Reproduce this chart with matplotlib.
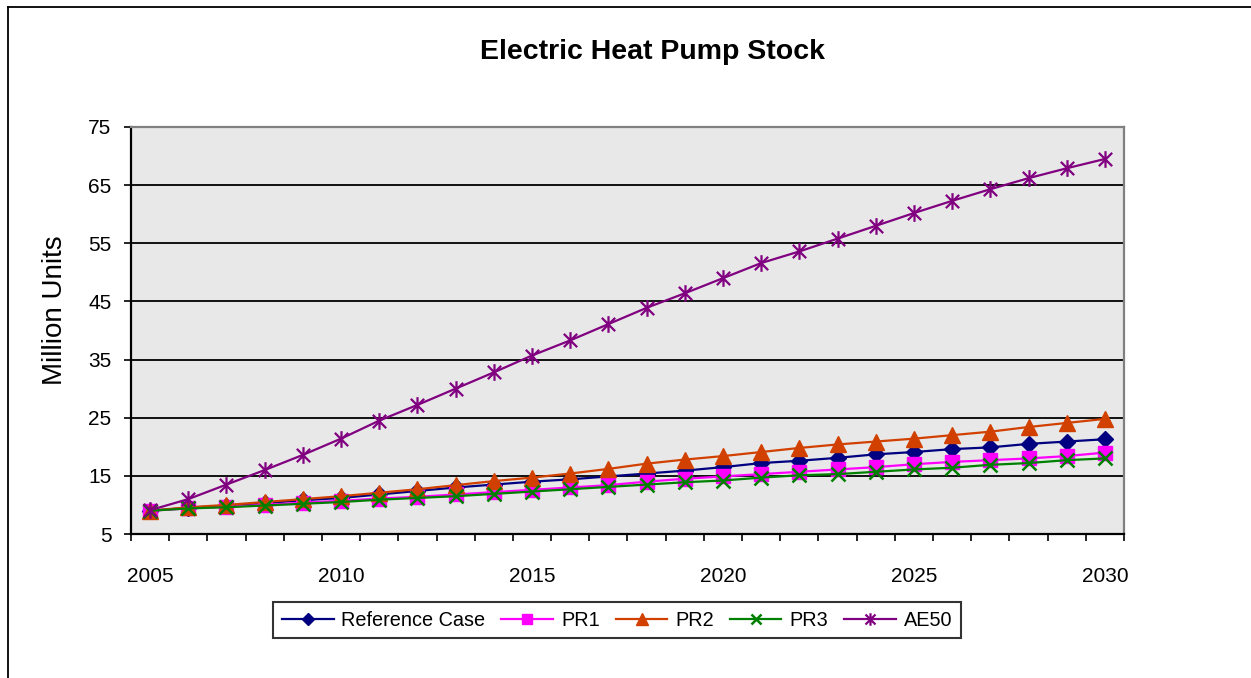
import matplotlib.pyplot as plt
from matplotlib.lines import Line2D
from matplotlib.path import Path

# data (million units)
years = list(range(2005, 2031))
ref_case = [9.0, 9.5, 9.9, 10.3, 10.8, 11.2, 11.8, 12.4, 13.0, 13.5, 14.0, 14.4, 14.9,
            15.4, 15.9, 16.5, 17.2, 17.6, 18.1, 18.7, 19.1, 19.6, 19.9, 20.5, 20.9, 21.3]
pr1 = [9.0, 9.4, 9.7, 10.0, 10.4, 10.7, 11.1, 11.4, 11.8, 12.2, 12.6, 13.0, 13.4,
       14.0, 14.5, 14.9, 15.3, 15.7, 16.1, 16.5, 17.0, 17.4, 17.7, 18.0, 18.4, 19.0]
pr2 = [9.0, 9.6, 10.0, 10.5, 11.0, 11.5, 12.1, 12.7, 13.4, 14.1, 14.7, 15.4, 16.2,
       17.1, 17.8, 18.4, 19.1, 19.8, 20.4, 20.9, 21.4, 22.0, 22.6, 23.4, 24.1, 24.8]
pr3 = [9.0, 9.4, 9.6, 9.9, 10.2, 10.5, 10.9, 11.2, 11.5, 11.9, 12.3, 12.7, 13.1,
       13.5, 13.9, 14.2, 14.7, 15.1, 15.3, 15.7, 16.1, 16.4, 16.9, 17.2, 17.7, 18.0]
ae50 = [9.1, 11.0, 13.5, 16.0, 18.6, 21.4, 24.5, 27.2, 30.0, 32.8, 35.7, 38.3, 41.1,
        43.9, 46.4, 49.0, 51.6, 53.6, 55.8, 58.0, 60.2, 62.3, 64.3, 66.2, 67.9, 69.5]
y_ticks = [5, 15, 25, 35, 45, 55, 65, 75]
x_labels = [2005, 2010, 2015, 2020, 2025, 2030]

plt.rcParams['font.family'] = ['Liberation Sans', 'DejaVu Sans']

# Excel style star: an "x" with a vertical bar through it
star = Path([(-1, -1), (1, 1), (-1, 1), (1, -1), (0, -1.25), (0, 1.25)],
            [Path.MOVETO, Path.LINETO, Path.MOVETO, Path.LINETO, Path.MOVETO, Path.LINETO])

fig = plt.figure(figsize=(12.51, 6.78), dpi=100)
ax = fig.add_axes([131 / 1251, 1 - 534 / 678, 993 / 1251, 407 / 678])
ax.set_facecolor('#E8E8E8')

series = [
    ("Reference Case", ref_case, '#000080', 'D', 8, 1.0),
    ("PR1", pr1, '#FF00FF', 's', 9.5, 1.0),
    ("PR2", pr2, '#D24000', '^', 11, 1.0),
    ("PR3", pr3, '#008000', 'x', 10, 1.8),
    ("AE50", ae50, '#800080', star, 12, 1.6),
]
for name, vals, col, mk, ms, mew in series:
    ax.plot(years, vals, color=col, lw=1.6, marker=mk, markersize=ms,
            markerfacecolor=col, markeredgecolor=col, markeredgewidth=mew,
            label=name, zorder=3)

ax.set_xlim(2004.5, 2030.5)
ax.set_ylim(5, 75)
ax.set_yticks(y_ticks)
ax.set_xticks(x_labels)
ax.set_xticks([y - 0.5 for y in years] + [2030.5], minor=True)
ax.grid(axis='y', color='black', lw=1.3, zorder=1)

ax.tick_params(axis='y', which='major', direction='out', length=5, width=1.2,
               labelsize=15, pad=9)
ax.tick_params(axis='x', which='major', length=0, labelsize=15, pad=24)
ax.tick_params(axis='x', which='minor', direction='out', length=5, width=1.2)

for side in ['left', 'bottom']:
    ax.spines[side].set_color('black')
    ax.spines[side].set_linewidth(1.6)
for side in ['top', 'right']:
    ax.spines[side].set_color('#808080')
    ax.spines[side].set_linewidth(1.6)

fig.text(653 / 1251, 1 - 52 / 678, "Electric Heat Pump Stock", ha='center', va='center',
         fontsize=20.5, fontweight='bold')
fig.text(55 / 1251, 1 - 310 / 678, "Million Units", ha='center', va='center',
         rotation=90, fontsize=20)

leg = fig.legend(loc='center', bbox_to_anchor=(617 / 1251, 1 - 620 / 678), ncol=5,
                 fontsize=14.3, frameon=True, fancybox=False, edgecolor='black',
                 handlelength=2.6, handletextpad=0.4, columnspacing=0.8,
                 borderpad=0.45, markerscale=0.75)
leg.get_frame().set_linewidth(1.5)

# outer chart border (only left and top visible in this crop)
fig.add_artist(Line2D([8 / 1251, 8 / 1251], [0, 1 - 7 / 678], color='black', lw=1.3))
fig.add_artist(Line2D([8 / 1251, 1], [1 - 7 / 678, 1 - 7 / 678], color='black', lw=1.3))

fig.savefig("out.png", dpi=100)
